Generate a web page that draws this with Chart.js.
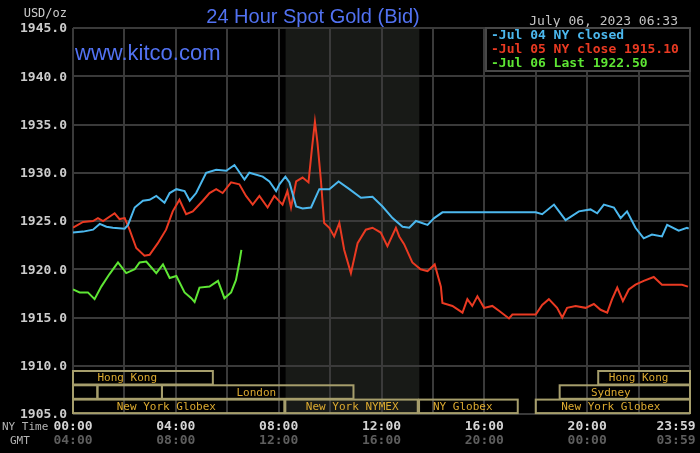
<!DOCTYPE html>
<html>
<head>
<meta charset="utf-8">
<script src="https://cdn.jsdelivr.net/npm/chart.js"></script>
<style>
  html, body { margin: 0; padding: 0; background: #000; }
  canvas { display: block; }
</style>
</head>
<body>
<canvas id="gold" width="700" height="453"></canvas>
<script>
// hours since NY midnight
var jul04Hours = [0.00,0.39,0.78,1.04,1.30,1.55,2.01,2.14,2.40,2.72,2.98,3.24,3.56,3.76,4.02,4.34,4.54,4.79,5.18,5.57,5.96,6.28,6.67,6.86,7.38,7.64,7.90,8.03,8.26,8.42,8.68,8.93,9.26,9.58,9.97,10.33,10.75,11.20,11.65,12.04,12.43,12.82,13.08,13.34,13.46,13.79,14.05,14.37,18.00,18.25,18.71,19.16,19.68,20.13,20.39,20.65,21.04,21.30,21.55,21.88,22.20,22.52,22.91,23.11,23.56,23.88,23.95];
var jul04Price = [1923.8,1923.9,1924.1,1924.7,1924.4,1924.3,1924.2,1924.6,1926.4,1927.1,1927.2,1927.6,1926.9,1927.9,1928.3,1928.1,1927.1,1927.9,1930.0,1930.3,1930.2,1930.8,1929.3,1930.0,1929.6,1929.1,1928.1,1928.8,1929.6,1929.0,1926.5,1926.3,1926.4,1928.3,1928.3,1929.1,1928.3,1927.4,1927.5,1926.5,1925.3,1924.4,1924.3,1925.0,1924.9,1924.6,1925.3,1925.9,1925.9,1925.7,1926.7,1925.1,1926.0,1926.2,1925.8,1926.7,1926.4,1925.3,1926.0,1924.3,1923.2,1923.6,1923.4,1924.6,1924.0,1924.3,1924.2];

var jul05Hours = [0.00,0.39,0.78,0.97,1.17,1.62,1.81,2.01,2.20,2.46,2.78,2.98,3.30,3.62,3.88,4.14,4.40,4.66,5.05,5.31,5.57,5.82,6.15,6.47,6.73,6.99,7.25,7.57,7.83,8.15,8.34,8.48,8.68,8.93,9.16,9.29,9.41,9.51,9.64,9.77,9.97,10.16,10.36,10.55,10.81,11.07,11.39,11.65,11.97,12.23,12.56,12.69,12.88,13.20,13.52,13.79,14.07,14.31,14.37,14.76,15.15,15.34,15.53,15.73,15.99,16.31,16.57,16.96,17.09,18.00,18.25,18.51,18.83,19.03,19.22,19.55,19.94,20.26,20.52,20.78,20.97,21.17,21.39,21.62,21.88,22.20,22.59,22.91,23.30,23.69,23.92];
var jul05Price = [1924.3,1924.9,1925.0,1925.3,1925.0,1925.8,1925.2,1925.3,1924.1,1922.2,1921.4,1921.5,1922.7,1924.1,1926.0,1927.2,1925.7,1926.0,1927.1,1927.9,1928.3,1927.9,1929.0,1928.8,1927.6,1926.7,1927.6,1926.4,1927.6,1926.7,1928.1,1926.4,1929.1,1929.5,1929.0,1932.4,1935.3,1933.1,1929.3,1924.8,1924.3,1923.4,1924.8,1922.0,1919.6,1922.7,1924.1,1924.3,1923.8,1922.4,1924.3,1923.4,1922.6,1920.7,1920.0,1919.8,1920.5,1918.2,1916.5,1916.2,1915.5,1916.9,1916.2,1917.2,1916.0,1916.2,1915.7,1914.9,1915.3,1915.3,1916.3,1916.9,1916.0,1915.0,1916.0,1916.2,1916.0,1916.4,1915.8,1915.5,1916.9,1918.1,1916.7,1917.9,1918.4,1918.8,1919.2,1918.4,1918.4,1918.4,1918.2];

var jul06Hours = [0.00,0.26,0.58,0.84,1.10,1.42,1.75,2.07,2.40,2.59,2.85,3.24,3.50,3.76,4.02,4.34,4.60,4.73,4.92,5.31,5.64,5.89,6.15,6.34,6.47,6.55];
var jul06Price = [1917.9,1917.6,1917.6,1916.9,1918.2,1919.5,1920.7,1919.6,1920.0,1920.7,1920.8,1919.6,1920.5,1919.1,1919.3,1917.6,1917.0,1916.6,1918.1,1918.2,1918.8,1917.0,1917.6,1918.9,1920.7,1922.0];

var legendLabels = ['-Jul 04 NY closed', '-Jul 05 NY close 1915.10', '-Jul 06 Last 1922.50'];

var yTicks = [1905, 1910, 1915, 1920, 1925, 1930, 1935, 1940, 1945];
var xLabelHours = [0, 4, 8, 12, 16, 20, 24];
var nyLabels = ['00:00', '04:00', '08:00', '12:00', '16:00', '20:00', '23:59'];
var gmtLabels = ['04:00', '08:00', '12:00', '16:00', '20:00', '00:00', '03:59'];

// NYMEX pit session (shaded)
var pitStart = 8.27, pitEnd = 13.47;

// market session bars
var sessionNames = ['Hong Kong', '', '', 'London', 'New York Globex', 'New York NYMEX', 'NY Globex', 'New York Globex', 'Sydney', 'Hong Kong'];
var sessionStart = [0, 0, 0.95, 3.46, 0, 8.26, 13.46, 18.0, 18.93, 20.43];
var sessionEnd = [5.44, 0.95, 3.46, 10.91, 8.22, 13.41, 17.3, 24, 24, 24];
var sessionRow = [0, 1, 1, 1, 2, 2, 2, 2, 1, 0];
var sessionLabelAt = [2.11, null, null, 7.13, 3.63, 10.86, 15.16, 20.92, 20.92, 22.0];

function pts(hs, vs) {
    return hs.map(function (h, i) { return { x: h, y: vs[i] }; });
}

var mono = '"DejaVu Sans Mono", "Liberation Mono", monospace';
var blue = '#4cb8ee', red = '#ea3a22', green = '#5ee634';

var kitco = {
    id: 'kitco',
    beforeDraw: function (chart) {
        var ctx = chart.ctx, a = chart.chartArea, x = chart.scales.x;
        ctx.save();
        ctx.fillStyle = '#000';
        ctx.fillRect(0, 0, chart.width, chart.height);
        ctx.fillStyle = '#181a17';
        var x0 = x.getPixelForValue(pitStart), x1 = x.getPixelForValue(pitEnd);
        ctx.fillRect(x0, a.top, x1 - x0, a.bottom - a.top);
        ctx.restore();
    },
    afterDatasetsDraw: function (chart) {
        var ctx = chart.ctx, a = chart.chartArea, x = chart.scales.x;
        ctx.save();
        ctx.lineWidth = 2;
        ctx.strokeStyle = '#a69e6c';
        ctx.fillStyle = '#dcaa30';
        ctx.font = '11px ' + mono;
        ctx.textAlign = 'center';
        ctx.textBaseline = 'middle';
        for (var i = 0; i < sessionNames.length; i++) {
            var top = a.bottom - 43 + sessionRow[i] * 14.3;
            var l = x.getPixelForValue(sessionStart[i]);
            var r = x.getPixelForValue(sessionEnd[i]);
            ctx.strokeRect(l, top, r - l, 13.5);
            if (sessionNames[i]) {
                ctx.fillText(sessionNames[i], x.getPixelForValue(sessionLabelAt[i]), top + 7.5);
            }
        }
        ctx.restore();
    },
    afterDraw: function (chart) {
        var ctx = chart.ctx, a = chart.chartArea, x = chart.scales.x, y = chart.scales.y;
        ctx.save();

        // y labels
        ctx.font = 'bold 13px ' + mono;
        ctx.fillStyle = '#cccccc';
        ctx.textAlign = 'right';
        ctx.textBaseline = 'middle';
        yTicks.forEach(function (v) {
            ctx.fillText(v.toFixed(1), a.left - 6, y.getPixelForValue(v) + 1);
        });
        ctx.font = '12px ' + mono;
        ctx.fillText('USD/oz', a.left - 6, 14);

        // x labels
        ctx.textAlign = 'center';
        xLabelHours.forEach(function (h, i) {
            var px = Math.min(x.getPixelForValue(h), chart.width - 24);
            ctx.font = 'bold 13px ' + mono;
            ctx.fillStyle = '#d4d4d4';
            ctx.fillText(nyLabels[i], px, 427);
            ctx.fillStyle = '#5e5e5e';
            ctx.fillText(gmtLabels[i], px, 441);
        });
        ctx.textAlign = 'left';
        ctx.font = '11px ' + mono;
        ctx.fillStyle = '#b4b4b4';
        ctx.fillText('NY Time', 2, 427);
        ctx.fillText('GMT', 10, 441);

        // title + site
        ctx.font = '20px "Liberation Sans", Arial, sans-serif';
        ctx.fillStyle = '#5272f2';
        ctx.textAlign = 'center';
        ctx.textBaseline = 'alphabetic';
        ctx.fillText('24 Hour Spot Gold (Bid)', 313, 23);
        ctx.font = '22px "Liberation Sans", Arial, sans-serif';
        ctx.textAlign = 'left';
        ctx.fillText('www.kitco.com', 75, 60);

        // timestamp
        ctx.font = '13px ' + mono;
        ctx.fillStyle = '#c4c4c4';
        ctx.textAlign = 'right';
        ctx.fillText('July 06, 2023 06:33', 678, 25);

        // legend box
        var lx = 486, ly = a.top, lw = a.right - lx, lh = 43;
        ctx.fillStyle = '#000';
        ctx.fillRect(lx, ly, lw, lh);
        ctx.strokeStyle = '#484848';
        ctx.lineWidth = 2;
        ctx.strokeRect(lx, ly, lw, lh);
        ctx.font = 'bold 13px ' + mono;
        ctx.textAlign = 'left';
        ctx.textBaseline = 'middle';
        var cols = [blue, red, green];
        legendLabels.forEach(function (t, i) {
            ctx.fillStyle = cols[i];
            ctx.fillText(t, 491, ly + 8 + i * 14);
        });
        ctx.restore();
    }
};

new Chart(document.getElementById('gold'), {
    type: 'line',
    data: {
        datasets: [
            { label: 'Jul 04', data: pts(jul04Hours, jul04Price), borderColor: blue, borderWidth: 2, pointRadius: 0, tension: 0 },
            { label: 'Jul 05', data: pts(jul05Hours, jul05Price), borderColor: red, borderWidth: 2, pointRadius: 0, tension: 0 },
            { label: 'Jul 06', data: pts(jul06Hours, jul06Price), borderColor: green, borderWidth: 2, pointRadius: 0, tension: 0 }
        ]
    },
    options: {
        responsive: false,
        animation: false,
        layout: { padding: { left: 73, right: 10, top: 28, bottom: 39 } },
        plugins: { legend: { display: false }, tooltip: { enabled: false } },
        scales: {
            x: {
                type: 'linear', min: 0, max: 24,
                ticks: { display: false, stepSize: 2 },
                grid: { color: '#3a3a3a', lineWidth: 2, drawTicks: false },
                border: { display: false }
            },
            y: {
                min: 1905, max: 1945,
                ticks: { display: false, stepSize: 5 },
                grid: { color: '#3a3a3a', lineWidth: 2, drawTicks: false },
                border: { display: false }
            }
        }
    },
    plugins: [kitco]
});
</script>
</body>
</html>
